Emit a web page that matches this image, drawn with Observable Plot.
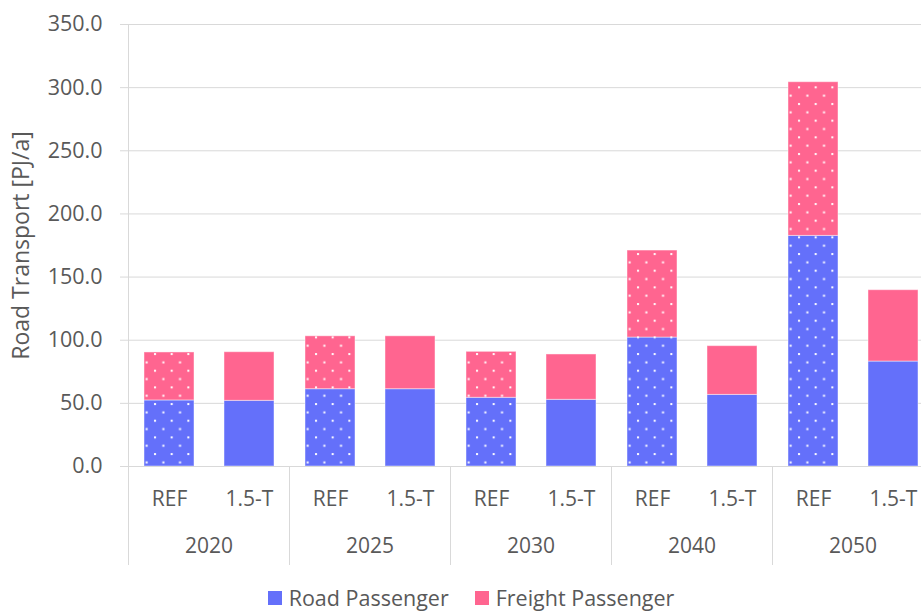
<!DOCTYPE html>
<html>
<head>
<meta charset="utf-8">
<script src="https://cdn.jsdelivr.net/npm/d3@7"></script>
<script src="https://cdn.jsdelivr.net/npm/@observablehq/plot@0.6"></script>
<style>
  html, body { margin: 0; padding: 0; background: #fff; overflow: hidden; }
  #wrap { width: 934px; }
  #chart svg { max-width: none; display: block; }
  .legend { display: flex; justify-content: center; align-items: center; height: 30px; margin-top: 8px;
            font-family: "Open Sans", sans-serif; font-size: 21.5px; line-height: 1; color: #595959; padding-left: 8px; }
  .legend .item { display: flex; align-items: center; margin: 0 13px; }
  .legend .sw { width: 14px; height: 14px; margin-right: 7px; box-sizing: border-box; }
  .legend span { line-height: 1; }
</style>
</head>
<body>
<div id="wrap"><div id="chart"></div><div class="legend" id="legend"></div></div>
<script>
const years = ["2020", "2025", "2030", "2040", "2050"];
const scenarios = ["REF", "1.5-T"];
const seriesNames = ["Road Passenger", "Freight Passenger"];
const seriesColors = ["#6470FA", "#FF6590"];
const roadREF = [52.3, 61.2, 54.4, 102.1, 182.6];
const road15T = [52.0, 61.2, 52.8, 56.7, 83.1];
const freightREF = [38.0, 41.9, 36.4, 68.9, 121.7];
const freight15T = [38.5, 41.9, 35.9, 38.6, 56.5];
const yTicks = [0, 50, 100, 150, 200, 250, 300, 350];
const yTitle = "Road Transport [PJ/a]";

const values = {
  "REF": [roadREF, freightREF],
  "1.5-T": [road15T, freight15T]
};
const rows = [];
years.forEach((year, i) => {
  scenarios.forEach(sc => {
    seriesNames.forEach((s, k) => {
      rows.push({year, scenario: sc, series: s, value: values[sc][k][i]});
    });
  });
});

const plot = Plot.plot({
  width: 934,
  height: 575,
  marginLeft: 127,
  marginRight: 0,
  marginTop: 24,
  marginBottom: 109,
  style: {fontFamily: "Open Sans, sans-serif", fontSize: "21px", color: "#595959", background: "white", overflow: "visible"},
  fx: {domain: years, padding: 0, label: null},
  x: {domain: scenarios, paddingInner: 0.38, paddingOuter: 0.19, label: null},
  y: {domain: [0, 350], label: null},
  color: {domain: seriesNames, range: seriesColors},
  marks: [
    Plot.gridY(yTicks, {stroke: "#d9d9d9", strokeOpacity: 1, strokeWidth: 1}),
    Plot.barY(rows, {fx: "year", x: "scenario", y: "value", fill: "series", z: "series", order: seriesNames,
      stroke: "white", strokeOpacity: 0.45, strokeWidth: 1}),
    Plot.barY(rows.filter(r => r.scenario === "REF"), {fx: "year", x: "scenario", y: "value", z: "series", order: seriesNames,
      fill: "url(#dots)"}),
    Plot.ruleY([0], {stroke: "#d9d9d9", strokeWidth: 1}),
    Plot.axisY(yTicks, {tickFormat: d => d.toFixed(1), tickSize: 8, tickPadding: 18, stroke: "#d9d9d9", fill: "#595959",
      fontSize: 21.5, label: null}),
    Plot.axisY([], {label: yTitle, labelAnchor: "center", labelOffset: 116, labelArrow: "none", fontSize: 23, fill: "#595959", tickSize: 0}),
    Plot.axisX({anchor: "bottom", tickSize: 0, tickPadding: 25, fill: "#595959", label: null}),
    Plot.axisFx({anchor: "bottom", tickSize: 0, tickPadding: 72, fill: "#595959", label: null})
  ]
});

// dotted pattern used on the REF bars
const svg = d3.select(plot);
const pat = svg.insert("defs", ":first-child").append("pattern")
  .attr("id", "dots").attr("patternUnits", "userSpaceOnUse")
  .attr("width", 16.67).attr("height", 16.67);
pat.append("rect").attr("x", 3).attr("y", 3).attr("width", 2).attr("height", 2).attr("fill", "white");
pat.append("rect").attr("x", 11.33).attr("y", 11.33).attr("width", 2).attr("height", 2).attr("fill", "white");

// y axis line and category group separators, placed from Plot's own scales
const fx = plot.scale("fx"), y = plot.scale("y");
const y0 = y.apply(0), yTop = y.apply(350);
const g = svg.append("g").attr("stroke", "#d9d9d9").attr("stroke-width", 1);
const left = fx.apply(years[0]);
g.append("line").attr("x1", left + 0.5).attr("x2", left + 0.5).attr("y1", yTop).attr("y2", y0);
years.forEach(yr => {
  const xs = [fx.apply(yr), fx.apply(yr) + fx.bandwidth];
  xs.forEach(xv => g.append("line").attr("x1", xv + 0.5).attr("x2", xv + 0.5).attr("y1", y0).attr("y2", y0 + 99));
});

document.getElementById("chart").appendChild(plot);

const legend = document.getElementById("legend");
seriesNames.forEach((s, i) => {
  const item = document.createElement("div");
  item.className = "item";
  const sw = document.createElement("div");
  sw.className = "sw";
  sw.style.background = seriesColors[i];
  const t = document.createElement("span");
  t.textContent = s;
  item.appendChild(sw); item.appendChild(t);
  legend.appendChild(item);
});
</script>
</body>
</html>
